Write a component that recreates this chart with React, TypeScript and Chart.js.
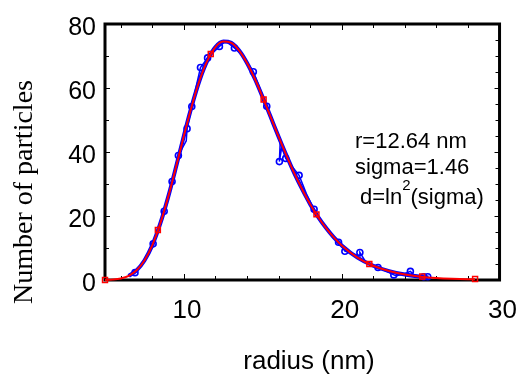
import React, { useEffect, useRef } from "react";
import { Chart, registerables } from "chart.js";

Chart.register(...registerables);

// ---- data ----
const xTicks = [10, 20, 30];
const yTicks = [0, 20, 40, 60, 80];
const xMinorTicks = [6, 8, 10, 12, 14, 16, 18, 20, 22, 24, 26, 28];
const yLeftTicks = [10, 20, 30, 40, 50, 60, 70];
const yRightTicks = [5, 10, 15, 20, 25, 30, 35, 40, 45, 50, 55, 60, 65, 70, 75];

// measured particles (blue line with circles); markerShown: 1 = circle drawn
const blueX = [6.9, 7.3, 7.7, 8.05, 8.4, 8.75, 9.0, 9.25, 9.65, 10.15, 10.2, 10.5, 10.8, 11.05, 11.5, 12.25, 12.65, 13.2, 13.7, 14.4, 14.8, 15.25, 15.7, 16.1, 16.05, 16.2, 16.45, 17.3, 17.8, 18.25, 18.8, 19.3, 19.8, 20.2, 21.15, 21.15, 21.5, 22.3, 22.8, 23.3, 23.45, 23.9, 24.35, 24.6, 25.2, 25.45];
const blueY = [2.3, 4.5, 7.5, 11.3, 16.0, 21.5, 26.0, 30.8, 38.9, 43.5, 47.3, 54.2, 61.0, 66.4, 69.4, 73.0, 74.6, 72.5, 70.2, 65.1, 60.0, 54.3, 48.5, 43.0, 37.0, 41.5, 38.0, 32.7, 26.5, 22.1, 17.5, 14.3, 11.8, 9.0, 7.5, 8.6, 5.8, 3.9, 2.8, 1.6, 1.3, 1.8, 2.7, 1.5, 1.0, 1.0];
const blueMarker = [1, 0, 0, 1, 0, 1, 0, 1, 1, 0, 1, 1, 0, 1, 1, 1, 0, 1, 0, 1, 0, 1, 0, 0, 1, 0, 1, 1, 0, 1, 0, 0, 1, 1, 0, 1, 0, 1, 0, 1, 0, 0, 1, 0, 1, 1];

// smooth blue curve drawn under the red fit
const blueFitX = [6.5, 7, 7.5, 8, 8.5, 9, 9.5, 10, 10.5, 11, 11.5, 12, 12.5, 13, 13.5, 14, 14.5, 15, 15.5, 16, 16.5, 17, 17.5, 18, 18.5, 19, 19.5, 20, 21, 22, 23, 24, 25, 25.5];
const blueFitY = [1.3, 3.0, 6.1, 10.9, 17.6, 25.9, 35.3, 45.1, 54.4, 62.5, 68.7, 72.8, 74.5, 74.1, 71.7, 67.8, 62.8, 57.0, 50.9, 44.8, 38.9, 33.3, 28.3, 23.7, 19.7, 16.3, 13.3, 10.8, 7.0, 4.46, 2.79, 1.72, 1.05, 0.8];

// fitted log-normal curve (red line)
const fitX = [5, 5.5, 6, 6.5, 7, 7.5, 8, 8.5, 9, 9.5, 10, 10.5, 11, 11.5, 12, 12.5, 13, 13.5, 14, 14.5, 15, 15.5, 16, 16.5, 17, 17.5, 18, 18.5, 19, 19.5, 20, 21, 22, 23, 24, 25, 26, 27, 28, 28.45];
const fitY = [0.03, 0.13, 0.46, 1.29, 3.03, 6.12, 10.9, 17.6, 25.9, 35.3, 45.1, 54.4, 62.5, 68.7, 72.8, 74.5, 74.1, 71.7, 67.8, 62.8, 57.0, 50.9, 44.8, 38.9, 33.3, 28.3, 23.7, 19.7, 16.3, 13.3, 10.8, 7.0, 4.46, 2.79, 1.72, 1.05, 0.63, 0.38, 0.23, 0.2];

// red square markers on the fit
const squareX = [5.0, 8.35, 11.7, 15.05, 18.4, 21.75, 25.1, 28.45];
const squareY = [0.03, 15.6, 70.6, 56.4, 20.5, 5.0, 1.1, 0.3];

const annotationLines = ["r=12.64 nm", "sigma=1.46"];
const xTitle = "radius (nm)";
const yTitle = "Number of particles";

const BLUE = "#0000ff";
const RED = "#ff0000";
const SANS = "'Liberation Sans', Arial, sans-serif";
const SERIF = "'Liberation Serif', 'Times New Roman', serif";

const overlay = {
  id: "overlay",
  beforeDatasetsDraw(chart: any) {
    const { ctx, chartArea, scales } = chart;
    const { left, right, top, bottom } = chartArea;
    const x = scales.x;
    const y = scales.y;
    ctx.save();
    ctx.strokeStyle = "#000";
    ctx.lineWidth = 1;
    const line = (x1: number, y1: number, x2: number, y2: number) => {
      ctx.beginPath();
      ctx.moveTo(x1, y1);
      ctx.lineTo(x2, y2);
      ctx.stroke();
    };
    for (const v of xMinorTicks) {
      const px = Math.round(x.getPixelForValue(v)) + 0.5;
      const len = xTicks.includes(v) ? 6 : 4;
      line(px, bottom, px, bottom - len);
      line(px, top, px, top + len);
    }
    for (const v of yLeftTicks) {
      const py = Math.round(y.getPixelForValue(v)) + 0.5;
      const len = yTicks.includes(v) ? 5 : 4;
      line(left, py, left + len, py);
    }
    for (const v of yRightTicks) {
      const py = Math.round(y.getPixelForValue(v)) + 0.5;
      const len = yTicks.includes(v) ? 5 : 4;
      line(right, py, right - len, py);
    }
    ctx.lineWidth = 3;
    ctx.strokeRect(left, top, right - left, bottom - top);
    ctx.restore();
  },
  afterDraw(chart: any) {
    const { ctx } = chart;
    ctx.save();
    ctx.fillStyle = "#000";
    // axis titles
    ctx.font = `26px ${SANS}`;
    ctx.textAlign = "center";
    ctx.textBaseline = "middle";
    ctx.fillText(xTitle, 309, 362);
    ctx.save();
    ctx.translate(25, 192);
    ctx.rotate(-Math.PI / 2);
    ctx.font = `28px ${SERIF}`;
    ctx.fillText(yTitle, 0, 0);
    ctx.restore();
    // annotation
    ctx.textAlign = "left";
    ctx.font = `22px ${SANS}`;
    ctx.fillText(annotationLines[0], 355, 142);
    ctx.fillText(annotationLines[1], 355, 168);
    let cx = 360;
    ctx.fillText("d=ln", cx, 198);
    cx += ctx.measureText("d=ln").width;
    ctx.font = `15px ${SANS}`;
    ctx.fillText("2", cx, 186);
    cx += ctx.measureText("2").width;
    ctx.font = `22px ${SANS}`;
    ctx.fillText("(sigma)", cx, 198);
    ctx.restore();
  },
};

export default function App() {
  const ref = useRef<HTMLCanvasElement | null>(null);
  useEffect(() => {
    document.body.style.margin = "0";
    if (!ref.current) return;
    const chart = new Chart(ref.current, {
      type: "scatter",
      data: {
        datasets: [
          {
            label: "blue fit",
            data: blueFitX.map((v, i) => ({ x: v, y: blueFitY[i] })),
            showLine: true,
            borderColor: BLUE,
            borderWidth: 4,
            pointRadius: 0,
            cubicInterpolationMode: "monotone",
            clip: false,
            order: 4,
          } as any,
          {
            label: "data",
            data: blueX.map((v, i) => ({ x: v, y: blueY[i] })),
            showLine: true,
            borderColor: BLUE,
            borderWidth: 1.5,
            pointStyle: "circle",
            pointRadius: blueMarker.map((m) => (m ? 3 : 0)),
            pointBorderWidth: 1.6,
            pointBorderColor: BLUE,
            pointBackgroundColor: "rgba(0,0,0,0)",
            clip: false,
            order: 3,
          } as any,
          {
            label: "fit",
            data: fitX.map((v, i) => ({ x: v, y: fitY[i] })),
            showLine: true,
            borderColor: RED,
            borderWidth: 2,
            pointRadius: 0,
            cubicInterpolationMode: "monotone",
            clip: false,
            order: 2,
          } as any,
          {
            label: "fit markers",
            data: squareX.map((v, i) => ({ x: v, y: squareY[i] })),
            showLine: false,
            pointStyle: "rect",
            pointRadius: 3.5,
            pointBorderWidth: 1.5,
            pointBorderColor: RED,
            pointBackgroundColor: "rgba(0,0,0,0)",
            clip: false,
            order: 1,
          } as any,
        ],
      },
      options: {
        animation: false,
        responsive: false,
        layout: { padding: { top: 21, right: 20, left: 0, bottom: 0 } },
        plugins: { legend: { display: false }, tooltip: { enabled: false } },
        scales: {
          x: {
            type: "linear",
            min: 5,
            max: 30,
            afterBuildTicks: (s: any) => {
              s.ticks = xTicks.map((v) => ({ value: v }));
            },
            afterFit: (s: any) => {
              s.height = 96;
            },
            grid: { display: false, drawTicks: false },
            border: { display: false },
            ticks: {
              color: "#000",
              font: { family: SANS, size: 26 },
              padding: 15,
              maxRotation: 0,
              labelOffset: 3,
            },
          },
          y: {
            type: "linear",
            min: 0,
            max: 80,
            afterBuildTicks: (s: any) => {
              s.ticks = yTicks.map((v) => ({ value: v }));
            },
            afterFit: (s: any) => {
              s.width = 105;
            },
            grid: { display: false, drawTicks: false },
            border: { display: false },
            ticks: {
              color: "#000",
              font: { family: SANS, size: 25 },
              padding: 9,
              labelOffset: 4,
            },
          },
        },
      },
      plugins: [overlay],
    });
    return () => chart.destroy();
  }, []);
  return (
    <div style={{ width: 529, height: 376 }}>
      <canvas ref={ref} width={529} height={376} style={{ display: "block" }} />
    </div>
  );
}
